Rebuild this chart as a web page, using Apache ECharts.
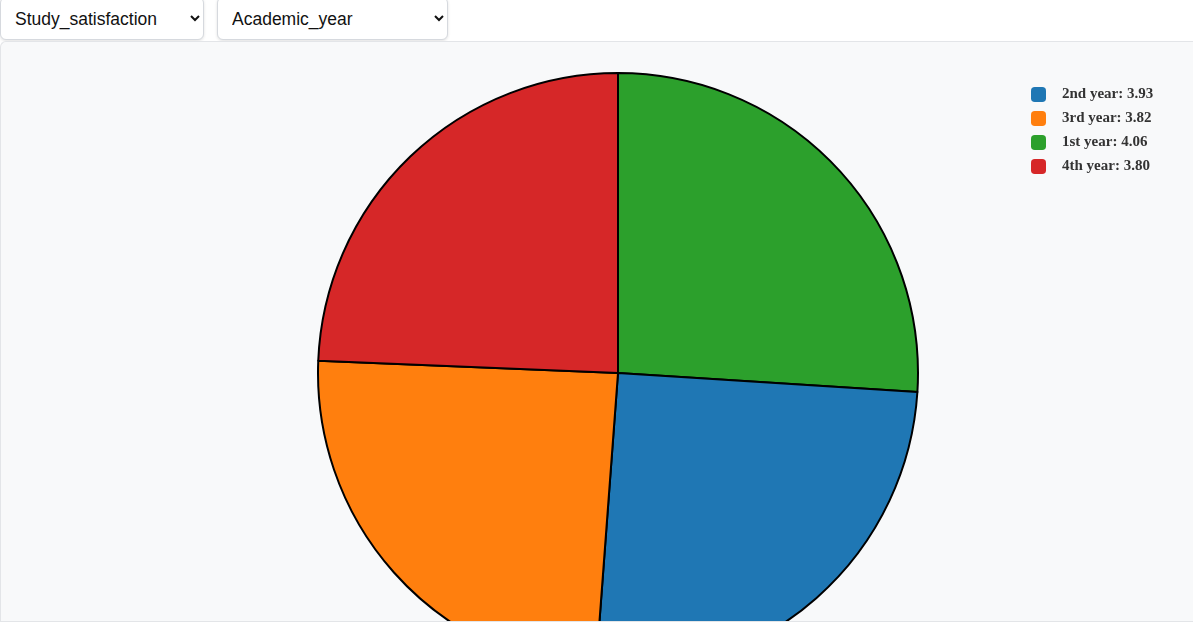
<!DOCTYPE html>
<html>
<head>
<meta charset="utf-8">
<script src="https://cdn.jsdelivr.net/npm/echarts@6/dist/echarts.min.js"></script>
<style>
  html, body { margin: 0; padding: 0; background: #fff; width: 1193px; height: 626px; overflow: hidden; font-family: "Liberation Sans", Arial, sans-serif; }
  select {
    position: absolute; top: -3px; height: 43px;
    font-family: "Liberation Sans", Arial, sans-serif; font-size: 17.5px; color: #111;
    background: #fff; border: 1px solid #d6d9de; border-radius: 6px;
    box-shadow: 0 1px 3px rgba(0,0,0,0.12); padding: 0 10px;
  }
  #s1 { left: 0px; width: 204px; }
  #s2 { left: 217px; width: 231px; }
  #chart {
    position: absolute; left: 0; top: 41px; width: 1193px; height: 581px;
    background: #f8f9fa; border-top: 1px solid #e3e5e8; border-bottom: 1px solid #e3e5e8;
    border-left: 1px solid #e3e5e8; border-top-left-radius: 6px; box-sizing: border-box;
  }
</style>
</head>
<body>
<select id="s1"><option>Study_satisfaction</option></select>
<select id="s2"><option>Academic_year</option></select>
<div id="chart"></div>
<script>
const categories = ["1st year", "2nd year", "3rd year", "4th year"];
const values = [4.06, 3.93, 3.82, 3.80];
const colors = ["#2ca02c", "#1f77b4", "#ff7f0e", "#d62728"];
const legendOrder = ["2nd year", "3rd year", "1st year", "4th year"];

const chart = echarts.init(document.getElementById('chart'), null, { renderer: 'canvas' });
const valueMap = {};
categories.forEach((c, i) => valueMap[c] = values[i]);
chart.setOption({
  animation: false,
  backgroundColor: 'transparent',
  legend: {
    data: legendOrder,
    orient: 'vertical',
    left: 1030,
    top: 42,
    padding: 0,
    icon: 'roundRect',
    itemWidth: 15,
    itemHeight: 15,
    itemGap: 3,
    itemStyle: { borderWidth: 0 },
    textStyle: { fontFamily: '"Liberation Serif", "Times New Roman", serif', fontWeight: 'bold', fontSize: 15, lineHeight: 15, color: '#333', padding: [6, 0, 0, 11] },
    formatter: name => name + ': ' + valueMap[name].toFixed(2)
  },
  series: [{
    type: 'pie',
    center: [617, 331],
    radius: [0, 300],
    startAngle: 90,
    clockwise: true,
    label: { show: false },
    labelLine: { show: false },
    emphasis: { disabled: true },
    itemStyle: { borderColor: '#000', borderWidth: 2 },
    data: categories.map((c, i) => ({ name: c, value: values[i], itemStyle: { color: colors[i] } }))
  }]
});
</script>
</body>
</html>
